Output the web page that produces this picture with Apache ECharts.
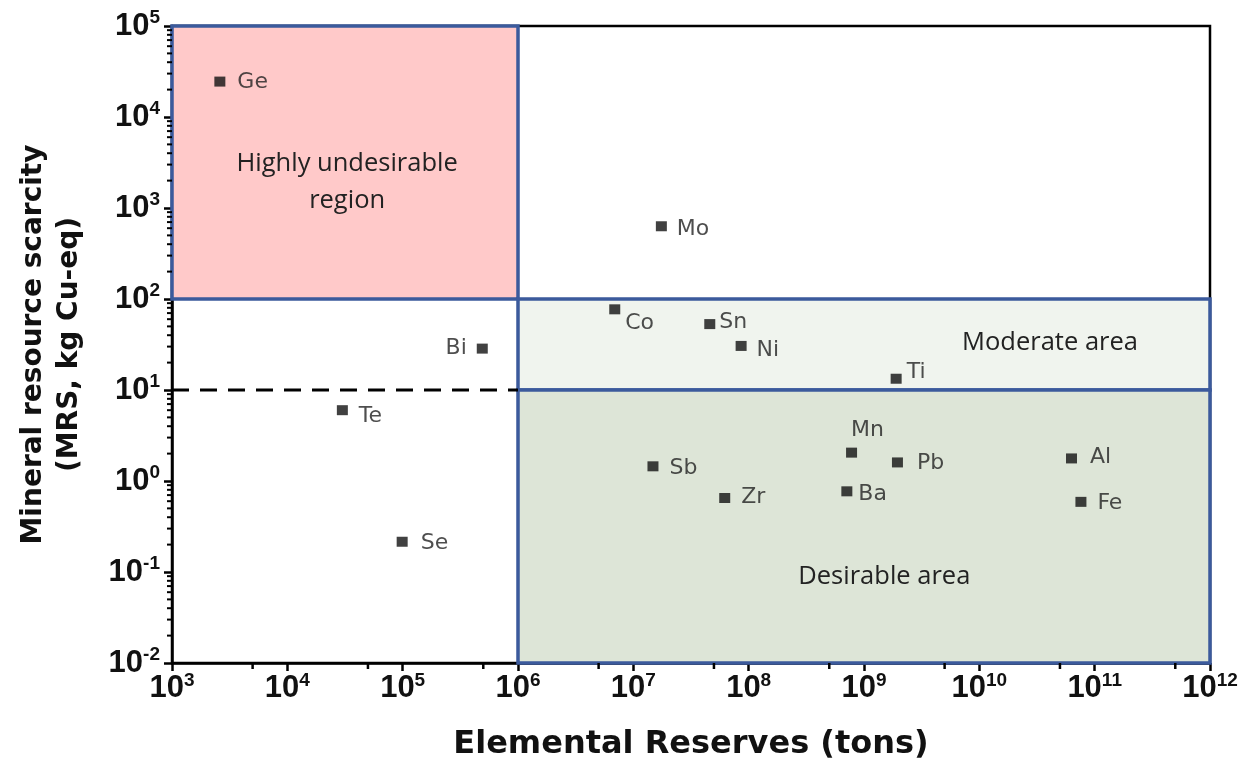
<!DOCTYPE html>
<html><head><meta charset="utf-8">
<script src="https://cdn.jsdelivr.net/npm/echarts@6/dist/echarts.min.js"></script>
<style>html,body{margin:0;padding:0;background:#fff}#c{width:1246px;height:769px}</style>
</head><body><div id="c"></div>
<script>
// ---- data ----
const elements = ['Ge','Mo','Co','Sn','Ni','Ti','Bi','Te','Se','Sb','Zr','Mn','Ba','Pb','Al','Fe'];
const reserves = [2.6e3, 1.75e7, 6.9e6, 4.6e7, 8.6e7, 1.9e9, 4.9e5, 3.0e4, 9.9e4, 1.48e7, 6.2e7, 7.8e8, 7.1e8, 1.95e9, 6.3e10, 7.6e10];
const mrs      = [2.45e4, 630, 77, 53, 30.5, 13.3, 28.5, 6.0, 0.215, 1.45, 0.65, 2.05, 0.77, 1.6, 1.77, 0.59];
const xExtent = [1e3, 1e12];
const yExtent = [1e-2, 1e5];
const threshold = 10;
// regions: [x0, y0, x1, y1]
const regionNames = ['undesirable','moderate','desirable'];
const regionBounds = [[1e3, 1e2, 1e6, 1e5], [1e6, 1e1, 1e12, 1e2], [1e6, 1e-2, 1e12, 1e1]];
const regionTexts = ['Highly undesirable\nregion', 'Moderate area', 'Desirable area'];
const regionTextAnchors = [[3.3e4, 1.9e3], [4.1e10, 33], [1.5e9, 0.088]];
const xMinorTicks = [5e3, 5e4, 5e5, 5e6, 5e7, 5e8, 5e9, 5e10, 5e11];
const yMinorMultipliers = [2,3,4,5,6,7,8,9];
const yDecades = [1e-2, 1e-1, 1e0, 1e1, 1e2, 1e3, 1e4];

// ---- styles ----
const regionFill = {undesirable:'#ffc9c9', moderate:'#f0f4ee', desirable:'#dde5d7'};
const regionBorder = '#3b5a9c';
const labelPlace = {
  Ge:{position:'right', distance:12, offset:[0,1]},
  Mo:{position:'right', distance:10, offset:[0,3]},
  Co:{position:'right', distance:5, offset:[0,14]},
  Sn:{position:'right', distance:4, offset:[0,-2]},
  Ni:{position:'right', distance:10, offset:[0,4]},
  Ti:{position:'right', distance:5, offset:[0,-6]},
  Bi:{position:'left', distance:10, offset:[0,0]},
  Te:{position:'right', distance:11, offset:[0,6]},
  Se:{position:'right', distance:13, offset:[0,2]},
  Sb:{position:'right', distance:11, offset:[0,2]},
  Zr:{position:'right', distance:11, offset:[0,-1]},
  Mn:{position:'top', distance:6, offset:[16,0]},
  Ba:{position:'right', distance:6, offset:[0,3]},
  Pb:{position:'right', distance:14, offset:[0,1]},
  Al:{position:'right', distance:13, offset:[0,-1]},
  Fe:{position:'right', distance:11, offset:[0,1]}
};

const yMinorTicks = [];
yDecades.forEach(d => yMinorMultipliers.forEach(m => yMinorTicks.push(d * m)));

const chart = echarts.init(document.getElementById('c'), null, {renderer:'canvas'});
const fontA = 'Liberation Sans, Arial, sans-serif';
const fontW = 'DejaVu Sans, Liberation Sans, sans-serif';
const supFmt = v => '{b|10}{s|' + Math.round(Math.log10(v)) + '}';
const richLbl = {
  b:{fontSize:31, fontWeight:'bold', fontFamily:fontA, color:'#111'},
  s:{fontSize:19, fontWeight:'bold', fontFamily:fontA, color:'#111', verticalAlign:'bottom', padding:[0,0,16,0]}
};

const scatterData = elements.map((n, i) => ({
  name: n, value: [reserves[i], mrs[i]],
  label: Object.assign({show:true, formatter:n}, labelPlace[n])
}));

chart.setOption({
  animation:false,
  grid:{left:172, right:36, top:26, bottom:106, containLabel:false, outerBoundsMode:'none',
        show:true, borderColor:'#000', borderWidth:2.5, backgroundColor:'transparent'},
  xAxis:{
    type:'log', logBase:10, min:xExtent[0], max:xExtent[1],
    name:'Elemental Reserves (tons)', nameLocation:'middle', nameGap:66,
    nameTextStyle:{fontSize:32, fontWeight:'bold', fontFamily:fontW, color:'#111'},
    axisLine:{show:true, lineStyle:{color:'#000', width:2.5}},
    axisTick:{show:true, inside:false, length:8, lineStyle:{color:'#000', width:2.5}},
    axisLabel:{formatter:supFmt, rich:richLbl, margin:8},
    splitLine:{show:false}
  },
  yAxis:{
    type:'log', logBase:10, min:yExtent[0], max:yExtent[1],
    name:'Mineral resource scarcity\n(MRS, kg Cu-eq)', nameLocation:'middle', nameGap:84,
    nameTextStyle:{fontSize:28, fontWeight:'bold', fontFamily:fontW, color:'#111', lineHeight:36},
    axisLine:{show:true, lineStyle:{color:'#000', width:2.5}},
    axisTick:{show:true, inside:false, length:8, lineStyle:{color:'#000', width:2.5}},
    axisLabel:{formatter:supFmt, rich:richLbl, margin:12},
    splitLine:{show:false}
  },
  series:[
    {
      type:'custom', z:1, clip:false, silent:true,
      data: regionBounds.map((b, i) => b.concat([i])),
      encode:{x:[0,2], y:[1,3]},
      renderItem:(params, api) => {
        const i = api.value(4);
        const p0 = api.coord([api.value(0), api.value(1)]);
        const p1 = api.coord([api.value(2), api.value(3)]);
        return {type:'rect', shape:{x:p0[0], y:p1[1], width:p1[0]-p0[0], height:p0[1]-p1[1]},
          style:{fill:regionFill[regionNames[i]], stroke:regionBorder, lineWidth:3.5}};
      }
    },
    {
      type:'custom', z:3, clip:false, silent:true,
      data: regionTextAnchors.map((a, i) => a.concat([i])),
      renderItem:(params, api) => {
        const i = api.value(2);
        const p = api.coord([api.value(0), api.value(1)]);
        return {type:'text', x:p[0], y:p[1], style:{text:regionTexts[i], fill:'#222', fontSize:25.5,
          fontFamily:'Open Sans, Lato, sans-serif', align:'center', verticalAlign:'middle', lineHeight:37}};
      }
    },
    {
      type:'line', z:4, symbol:'none', silent:true,
      data:[[xExtent[0], threshold], [regionBounds[2][0], threshold]],
      lineStyle:{color:'#000', width:3, type:[17,11]}
    },
    {
      type:'custom', z:5, clip:false, silent:true,
      data: xMinorTicks.map(v => [v]),
      renderItem:(params, api) => {
        const p = api.coord([api.value(0), yExtent[0]]);
        return {type:'line', shape:{x1:p[0], y1:p[1], x2:p[0], y2:p[1]+6}, style:{stroke:'#000', lineWidth:2.5}};
      }
    },
    {
      type:'custom', z:5, clip:false, silent:true,
      data: yMinorTicks.map(v => [xExtent[0], v]),
      renderItem:(params, api) => {
        const p = api.coord([xExtent[0], api.value(1)]);
        return {type:'line', shape:{x1:p[0], y1:p[1], x2:p[0]-5, y2:p[1]}, style:{stroke:'#000', lineWidth:2}};
      }
    },
    {
      type:'scatter', z:10, symbol:'rect', symbolSize:[11,10],
      itemStyle:{color:'#111'},
      label:{fontSize:22, fontFamily:fontW, color:'#222'},
      data: scatterData
    }
  ]
});
</script></body></html>
